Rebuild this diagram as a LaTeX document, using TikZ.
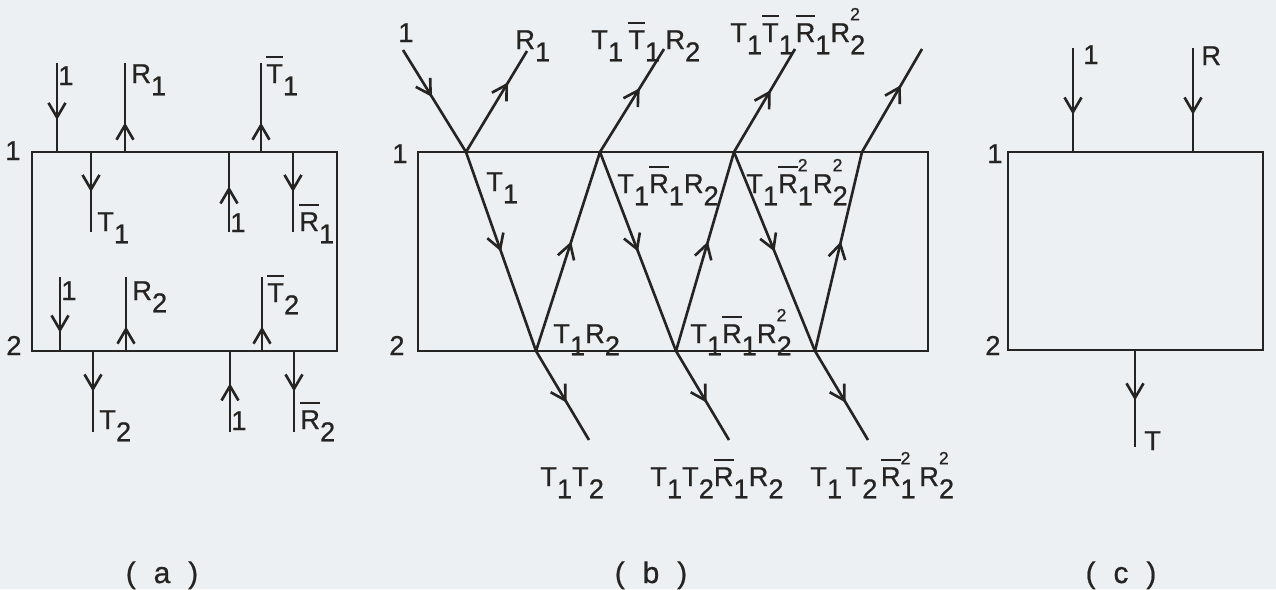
\documentclass[tikz,border=0pt]{standalone}
\usepackage{fontspec}
\setmainfont{Liberation Sans}
\newfontfamily\plotfont{Liberation Sans}[FakeBold=0.7]
\usetikzlibrary{arrows.meta,decorations.markings}
\definecolor{paper}{RGB}{237,240,243}
\definecolor{ink}{RGB}{38,36,34}
\newcommand\lbl{\plotfont\fontsize{15.5}{18}\selectfont}
\newcommand\lsub[1]{\raisebox{-0.45em}{#1}}
\newcommand\lsup[1]{\raisebox{0.8em}{\fontsize{10}{12}\selectfont #1}}
\newcommand\lsubsup[2]{\rlap{\lsup{#2}}\lsub{#1}}
\newcommand\lbar[1]{\setbox0\hbox{#1}\rlap{\rule[0.9em]{\wd0}{1.3pt}}\box0}
\tikzset{
  wire/.style ={color=ink,line width=1.5pt},
  flow/.style ={wire,postaction={decorate},decoration={markings,
    mark=at position #1 with {\arrow{Straight Barb[length=2.9mm,width=3.4mm]}}}},
  flow/.default=0.5,
  lab/.style  ={inner sep=0pt,anchor=base west,text=ink,font=\lbl},
  capt/.style ={inner sep=0pt,anchor=base,text=ink,font=\plotfont\fontsize{17}{20}\selectfont},
}

\begin{document}
\begin{tikzpicture}[x=0.02cm,y=-0.02cm]
  \fill[paper] (0,0) rectangle (1276,589);
  \useasboundingbox (0,0) rectangle (1276,589);

  % (a) single layer boxes
  \coordinate (A1) at (32,152); \coordinate (A2) at (337,351);
  \draw[wire] (A1) rectangle (A2);
  \node[lab] (a1) at (5,160){1}; \node[lab] (a2) at (6,355){2};
  \foreach \n/\x/\ya/\yb/\p/\lx/\ly/\t in {
      u1/57/63/152/0.64/58/85/{1},
      u2/125/152/63/0.33/131/83/{R\lsub1},
      u3/261/152/63/0.33/266/83/{\lbar{T}\lsub1},
      v1/91/152/232/0.5/97/231/{T\lsub1},
      v2/229/232/152/0.57/230/232/{1},
      v3/293/152/232/0.5/299/231/{\lbar{R}\lsub1},
      w1/60/277/351/0.75/61/300/{1},
      w2/126/351/277/0.33/132/300/{R\lsub2},
      w3/262/351/277/0.33/267/302/{\lbar{T}\lsub2},
      z1/93/351/432/0.5/99/429/{T\lsub2},
      z2/230/432/351/0.6/231/430/{1},
      z3/294/351/432/0.5/300/429/{\lbar{R}\lsub2}}{
    \coordinate (\n s) at (\x,\ya); \coordinate (\n e) at (\x,\yb);
    \draw[flow=\p] (\n s) -- (\n e);
    \node[lab] (\n t) at (\lx,\ly){\t};
  }

  % (b) multiple reflections
  \coordinate (B1) at (418,152); \coordinate (B2) at (928,351);
  \draw[wire] (B1) rectangle (B2);
  \node[lab] (b1) at (392,163){1}; \node[lab] (b2) at (389,355){2};
  \coordinate (src) at (403,50);
  \coordinate (h1) at (466,152); \coordinate (h2) at (600,152);
  \coordinate (h3) at (734,152); \coordinate (h4) at (862,152);
  \coordinate (f1) at (536,351); \coordinate (f2) at (676,351); \coordinate (f3) at (815,351);
  \coordinate (r1) at (527,51);  \coordinate (r2) at (664,49);
  \coordinate (r3) at (795,49);  \coordinate (r4) at (922,49);
  \coordinate (e1) at (589,440); \coordinate (e2) at (729,440); \coordinate (e3) at (868,440);
  \draw[flow=0.46] (src) -- (h1);
  \foreach \i/\p in {1/0.69,2/0.62,3/0.6,4/0.65} \draw[flow=\p] (h\i) -- (r\i);
  \foreach \i in {1,2,3} \draw[flow=0.5] (h\i) -- (f\i);
  \foreach \i/\j in {1/2,2/3,3/4} \draw[flow=0.55] (f\i) -- (h\j);
  \foreach \i in {1,2,3} \draw[flow=0.58] (f\i) -- (e\i);
  \node[lab] (src t) at (398,42){1};
  \node[lab] (r1t) at (515,49){R\lsub1};
  \node[lab] (r2t) at (591,49){T\lsub1\hspace{3pt}\lbar{T}\lsub1\hspace{3pt}R\lsub2};
  \node[lab] (r3t) at (730,42){T\lsub1\lbar{T}\lsub1\hspace{1pt}\lbar{R}\lsub1R\lsubsup22};
  \node[lab] (h1t) at (486,191){T\lsub1};
  \node[lab] (h2t) at (617,193){T\lsub1\lbar{R}\lsub1R\lsub2};
  \node[lab] (h3t) at (746,193){T\lsub1\lbar{R}\lsubsup12R\lsubsup22};
  \node[lab] (f1t) at (553,343){T\lsub1R\lsub2};
  \node[lab] (f2t) at (690,343){T\lsub1\lbar{R}\lsub1R\lsubsup22};
  \node[lab] (e1t) at (540,486){T\lsub1T\lsub2};
  \node[lab] (e2t) at (650,486){T\lsub1T\lsub2\lbar{R}\lsub1R\lsub2};
  \node[lab] (e3t) at (810,486){T\lsub1\hspace{2pt}T\lsub2\hspace{2pt}\lbar{R}\lsubsup12\hspace{2pt}R\lsubsup22};

  % (c) equivalent box
  \coordinate (C1) at (1008,152); \coordinate (C2) at (1263,350);
  \draw[wire] (C1) rectangle (C2);
  \node[lab] (c1) at (987,163){1}; \node[lab] (c2) at (985,355){2};
  \coordinate (ci) at (1073,48);  \coordinate (cj) at (1073,152);
  \coordinate (ri) at (1193,48);  \coordinate (rj) at (1193,152);
  \coordinate (ti) at (1135,350); \coordinate (tj) at (1135,447);
  \draw[flow=0.64] (ci) -- (cj);
  \draw[flow=0.64] (ri) -- (rj);
  \draw[flow=0.52] (ti) -- (tj);
  \node[lab] (cit) at (1083,64){1};
  \node[lab] (rit) at (1201,65){R};
  \node[lab] (tjt) at (1144,450){T};

  \node[capt] (capa) at (162,583){(\hspace{0.6em}a\hspace{0.6em})};
  \node[capt] (capb) at (651,583){(\hspace{0.6em}b\hspace{0.6em})};
  \node[capt] (capc) at (1121,583){(\hspace{0.6em}c\hspace{0.6em})};
\end{tikzpicture}
\end{document}
